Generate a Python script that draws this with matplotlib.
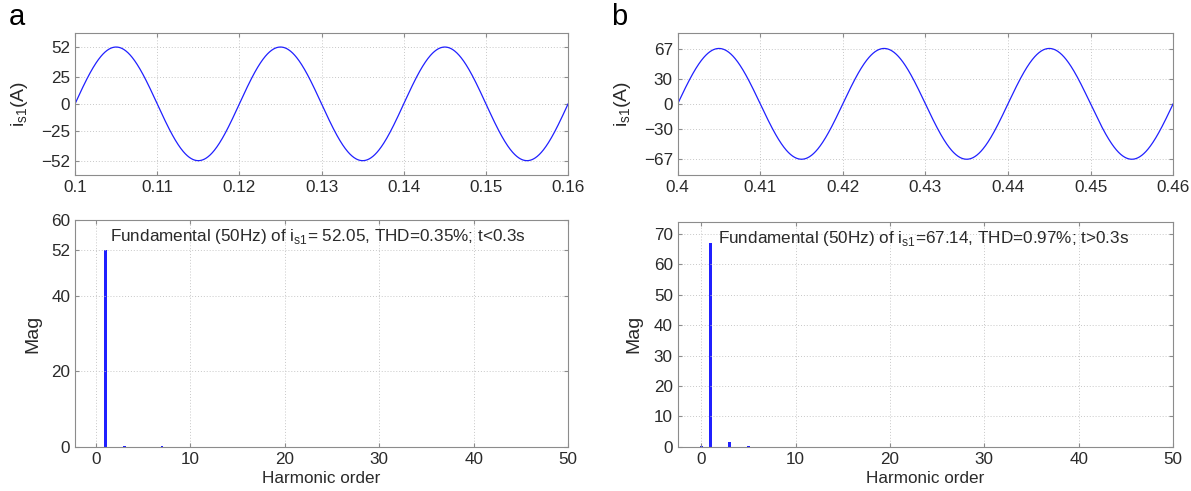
import numpy as np
import matplotlib
matplotlib.use("Agg")
import matplotlib.pyplot as plt

plt.rcParams['font.family'] = ['Liberation Sans', 'DejaVu Sans']
plt.rcParams['mathtext.fontset'] = 'custom'
plt.rcParams['mathtext.rm'] = 'Liberation Sans'

# waveform parameters (50 Hz fundamental)
freq = 50.0
amp_a = 52.05
amp_b = 67.14
t_start_a, t_end_a = 0.10, 0.16
t_start_b, t_end_b = 0.40, 0.46

# harmonic spectra (order, magnitude)
orders_a = [0, 1, 3, 5, 7]
mags_a = [0.05, 52.05, 0.15, 0.08, 0.12]
orders_b = [0, 1, 3, 5, 7]
mags_b = [0.3, 67.14, 1.5, 0.2, 0.1]

ticks_a_top = [-52, -25, 0, 25, 52]
ticks_b_top = [-67, -30, 0, 30, 67]
ticks_a_bot = [0, 20, 40, 52, 60]
ticks_b_bot = [0, 10, 20, 30, 40, 50, 60, 70]

text_a = "Fundamental (50Hz) of i$_{\\mathrm{s1}}$= 52.05, THD=0.35%; t<0.3s"
text_b = "Fundamental (50Hz) of i$_{\\mathrm{s1}}$=67.14, THD=0.97%; t>0.3s"

blue = '#2020ff'
tick_col = '#2a2a2a'
frame_col = '#8c8c8c'
fs = 12.3


def style(ax):
    ax.grid(True, linestyle=(0, (1, 2)), color='#c8c8c8', linewidth=0.7)
    ax.tick_params(direction='in', top=True, right=True, labelsize=fs,
                   colors=frame_col, labelcolor=tick_col, length=3)
    for s in ax.spines.values():
        s.set_color(frame_col)


fig = plt.figure(figsize=(11.91, 4.91), dpi=100)

ax1 = fig.add_axes([0.063, 0.644, 0.414, 0.289])
ax2 = fig.add_axes([0.569, 0.644, 0.416, 0.289])
ax3 = fig.add_axes([0.063, 0.090, 0.414, 0.462])
ax4 = fig.add_axes([0.569, 0.090, 0.416, 0.458])

# time-domain currents
ta = np.linspace(t_start_a, t_end_a, 1200)
ax1.plot(ta, amp_a * np.sin(2 * np.pi * freq * (ta - t_start_a)), color=blue, lw=0.9)
ax1.set_xlim(t_start_a, t_end_a)
ax1.set_ylim(-65, 65)
ax1.set_yticks(ticks_a_top)
ax1.set_xticks(np.round(np.arange(0.10, 0.1601, 0.01), 2))
ax1.set_xticklabels(['0.1', '0.11', '0.12', '0.13', '0.14', '0.15', '0.16'])
ax1.set_ylabel('i$_{\\mathrm{s1}}$(A)', fontsize=14, color=tick_col, labelpad=8)
style(ax1)

tb = np.linspace(t_start_b, t_end_b, 1200)
ax2.plot(tb, amp_b * np.sin(2 * np.pi * freq * (tb - t_start_b)), color=blue, lw=0.9)
ax2.set_xlim(t_start_b, t_end_b)
ax2.set_ylim(-86, 86)
ax2.set_yticks(ticks_b_top)
ax2.set_xticks(np.round(np.arange(0.40, 0.4601, 0.01), 2))
ax2.set_xticklabels(['0.4', '0.41', '0.42', '0.43', '0.44', '0.45', '0.46'])
ax2.set_ylabel('i$_{\\mathrm{s1}}$(A)', fontsize=14, color=tick_col, labelpad=8)
style(ax2)

# spectra
ax3.bar(orders_a, mags_a, width=0.3, color=blue)
ax3.set_xlim(-2.2, 50)
ax3.set_ylim(0, 60)
ax3.set_yticks(ticks_a_bot)
ax3.set_xticks([0, 10, 20, 30, 40, 50])
ax3.set_xlabel('Harmonic order', fontsize=fs, color=tick_col, labelpad=3)
ax3.set_ylabel('Mag', fontsize=14, color=tick_col, labelpad=7)
ax3.text(1.5, 53.2, text_a, fontsize=fs, color=tick_col, va='bottom')
style(ax3)

ax4.bar(orders_b, mags_b, width=0.35, color=blue)
ax4.set_xlim(-2.5, 50)
ax4.set_ylim(0, 74)
ax4.set_yticks(ticks_b_bot)
ax4.set_xticks([0, 10, 20, 30, 40, 50])
ax4.set_xlabel('Harmonic order', fontsize=fs, color=tick_col, labelpad=3)
ax4.set_ylabel('Mag', fontsize=14, color=tick_col, labelpad=8)
ax4.text(1.8, 65.3, text_b, fontsize=fs, color=tick_col, va='bottom')
style(ax4)

fig.text(0.007, 0.965, 'a', fontsize=21, va='center')
fig.text(0.513, 0.965, 'b', fontsize=21, va='center')

fig.savefig('out.png', dpi=100)
